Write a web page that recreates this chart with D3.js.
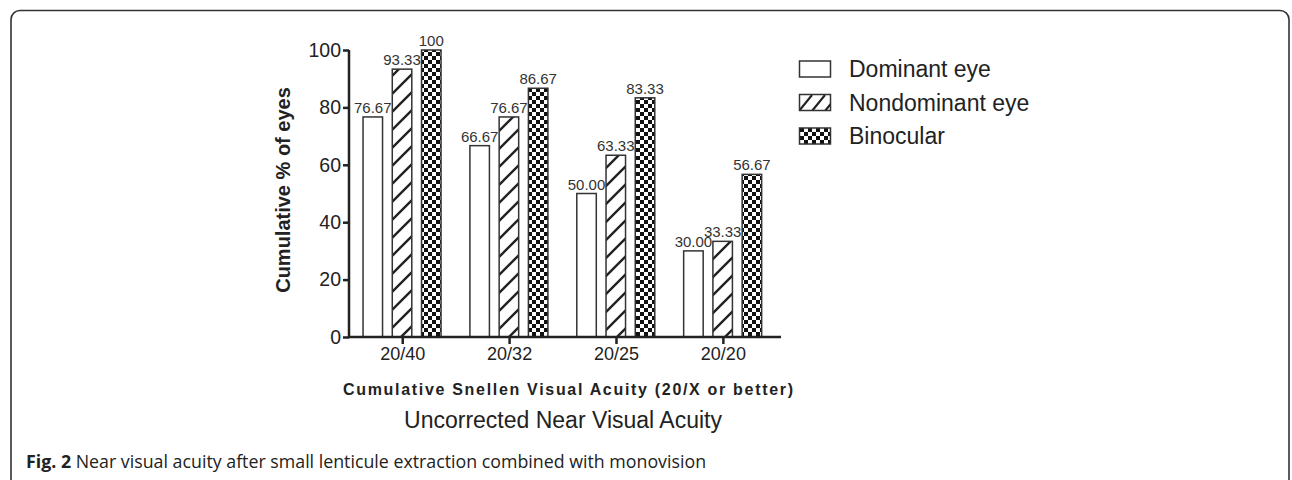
<!DOCTYPE html>
<html><head><meta charset="utf-8">
<script src="https://cdn.jsdelivr.net/npm/d3@7"></script>
<style>body{margin:0;background:#fff}svg{display:block}</style>
</head><body>
<svg id="c" width="1292" height="480"></svg>
<script>
const categories = ["20/40","20/32","20/25","20/20"];
const seriesNames = ["Dominant eye","Nondominant eye","Binocular"];
const dominant = [76.67,66.67,50.00,30.00];
const nondominant = [93.33,76.67,63.33,33.33];
const binocular = [100,86.67,83.33,56.67];
const valueLabels = [
  ["76.67","66.67","50.00","30.00"],
  ["93.33","76.67","63.33","33.33"],
  ["100","86.67","83.33","56.67"]
];
const yTicks = [0,20,40,60,80,100];

const svg = d3.select("#c");
const ink = "#222";
const font = "Liberation Sans, Arial, sans-serif";
const defs = svg.append("defs");
const hp = defs.append("pattern").attr("id","hatch").attr("patternUnits","userSpaceOnUse")
  .attr("width",18).attr("height",18);
hp.append("rect").attr("width",18).attr("height",18).attr("fill","#fff");
hp.append("path").attr("d","M0,18L18,0M-4.5,4.5L4.5,-4.5M13.5,22.5L22.5,13.5")
  .attr("stroke",ink).attr("stroke-width",2.4);
const cp = defs.append("pattern").attr("id","check").attr("patternUnits","userSpaceOnUse")
  .attr("width",8).attr("height",8);
cp.append("rect").attr("width",8).attr("height",8).attr("fill","#fff");
cp.append("rect").attr("x",0).attr("y",0).attr("width",4).attr("height",4).attr("fill","#111");
cp.append("rect").attr("x",4).attr("y",4).attr("width",4).attr("height",4).attr("fill","#111");
const legHatch = defs.append("pattern").attr("id","hatchLeg").attr("patternUnits","userSpaceOnUse")
  .attr("width",13).attr("height",16).attr("patternTransform","translate(799,95)");
legHatch.append("rect").attr("width",13).attr("height",16).attr("fill","#fff");
legHatch.append("path").attr("d","M0,16L13,0M-13,16L0,0M13,16L26,0").attr("stroke",ink).attr("stroke-width",2.2);

const fills = ["#fff","url(#hatch)","url(#check)"];
const legFills = ["#fff","url(#hatchLeg)","url(#check)"];
const series = [dominant, nondominant, binocular];

// frame
svg.append("rect").attr("x",11).attr("y",10.5).attr("width",1278).attr("height",520).attr("rx",9)
  .attr("fill","none").attr("stroke","#333").attr("stroke-width",1.6);

const x0 = d3.scaleBand().domain(categories).range([349.3,776.8]).paddingInner(0).paddingOuter(0);
const x1 = d3.scaleBand().domain(seriesNames).range([-39.7,38.3]).paddingInner(0.333).paddingOuter(0);
const y = d3.scaleLinear().domain([0,100]).range([337,50]);

const g = svg.append("g");
categories.forEach((c,ci)=>{
  seriesNames.forEach((s,si)=>{
    const v = series[si][ci];
    const bx = x0(c)+x0.bandwidth()/2 + x1(s);
    g.append("rect").attr("x",bx).attr("y",y(v)).attr("width",x1.bandwidth())
      .attr("height",y(0)-y(v)).attr("fill",fills[si]).attr("stroke","#333").attr("stroke-width",1.5);
    g.append("text").attr("x",bx+x1.bandwidth()/2).attr("y",y(v)-4)
      .attr("text-anchor","middle").attr("font-family",font)
      .attr("font-size",15).attr("fill","#333").text(valueLabels[si][ci]);
  });
});

// y axis
const yAxis = svg.append("g").attr("transform","translate(349,0)")
  .call(d3.axisLeft(y).tickValues(yTicks).tickSize(6).tickPadding(2));
yAxis.select(".domain").attr("stroke",ink).attr("stroke-width",2.5).attr("d","M0,338V50");
yAxis.selectAll(".tick line").attr("stroke",ink).attr("stroke-width",2.5);
yAxis.selectAll(".tick text").attr("font-family",font).attr("font-size",19.5).attr("fill",ink);

// x axis
const xAxis = svg.append("g").attr("transform","translate(0,337)")
  .call(d3.axisBottom(x0).tickSize(7).tickPadding(3));
xAxis.select(".domain").attr("stroke",ink).attr("stroke-width",2.5).attr("d","M348,0H781");
xAxis.selectAll(".tick line").attr("stroke",ink).attr("stroke-width",2.5);
xAxis.selectAll(".tick text").attr("font-family",font).attr("font-size",18).attr("fill",ink);

// y title
svg.append("text").attr("transform","translate(290,190) rotate(-90)").attr("text-anchor","middle")
  .attr("font-family",font).attr("font-weight","bold")
  .attr("font-size",20).attr("fill",ink).text("Cumulative % of eyes");
// x title
svg.append("text").attr("x",343).attr("y",395).attr("textLength",450).attr("lengthAdjust","spacing")
  .attr("font-family",font).attr("font-weight","bold")
  .attr("font-size",16).attr("fill",ink).text("Cumulative Snellen Visual Acuity (20/X or better)");
svg.append("text").attr("x",563).attr("y",428).attr("text-anchor","middle")
  .attr("font-family",font).attr("font-size",23).attr("fill",ink).text("Uncorrected Near Visual Acuity");

// legend
seriesNames.forEach((s,i)=>{
  const cy = 69 + i*33.5;
  svg.append("rect").attr("x",799.5).attr("y",cy-8).attr("width",31).attr("height",16)
    .attr("fill",legFills[i]).attr("stroke","#333").attr("stroke-width",1.5);
  svg.append("text").attr("x",849).attr("y",cy+8).attr("font-family",font)
    .attr("font-size",23).attr("fill",ink).text(s);
});

// caption
const cap = svg.append("text").attr("x",26).attr("y",468).attr("font-family","Open Sans, sans-serif")
  .attr("font-size",17.8).attr("fill","#222");
cap.append("tspan").attr("font-weight","bold").text("Fig. 2");
cap.append("tspan").text(" Near visual acuity after small lenticule extraction combined with monovision");
</script>
</body></html>
